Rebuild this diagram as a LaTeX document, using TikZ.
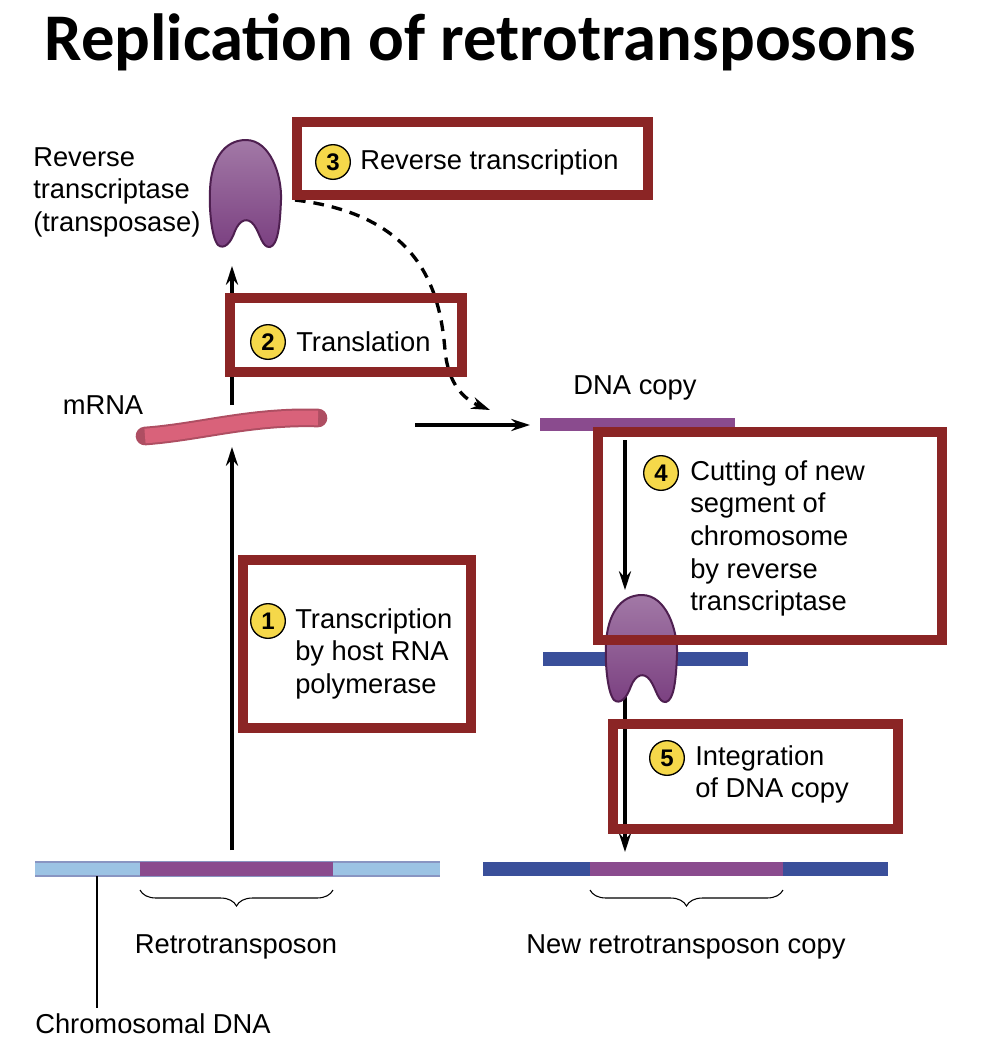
\documentclass[tikz,border=0pt]{standalone}
\usepackage{fontspec}
\setmainfont{Liberation Sans}
\newfontfamily\titlefont{Carlito}
\usetikzlibrary{arrows.meta,decorations.pathreplacing}
\definecolor{boxred}{HTML}{8B2525}
\definecolor{prot}{HTML}{7A3F80}
\definecolor{protd}{HTML}{4E1F50}
\definecolor{lblue}{HTML}{9CC3E4}
\definecolor{dblue}{HTML}{3A4F9A}
\definecolor{purp}{HTML}{8A4B8E}
\definecolor{pink}{HTML}{D9627A}
\definecolor{yel}{HTML}{F5D84A}
\begin{document}
\begin{tikzpicture}[x=0.75pt,y=-0.75pt,
  lbl/.style={font=\fontsize{20.5}{24.5}\selectfont,align=left,inner sep=0},
  rbox/.style={draw=boxred,line width=7.5pt},
  num/.style={circle,draw=black,line width=1pt,fill=yel,inner sep=0,minimum size=26pt,font=\fontsize{18}{18}\selectfont\bfseries},
  arr/.style={line width=2.5pt,-{Stealth[length=14pt,width=9pt]}},
  prt/.pic={\draw[protd,line width=1.5pt,top color=prot!70!white,bottom color=prot,middle color=prot!85]
     (0,-55) .. controls (24,-55) and (36,-20) .. (35,5)
     .. controls (34,30) and (32,50) .. (24,52)
     .. controls (16,53) and (14,38) .. (8,30)
     .. controls (2,22) and (-6,24) .. (-11,36)
     .. controls (-15,48) and (-22,55) .. (-28,50)
     .. controls (-35,42) and (-37,10) .. (-36,-5)
     .. controls (-35,-35) and (-22,-55) .. (0,-55) -- cycle;}]
\useasboundingbox (0,0) rectangle (986,1054);
\fill[white] (0,0) rectangle (986,1054);
\node (title) at (480,42) {\titlefont\bfseries\fontsize{50}{54}\selectfont Replication of retrotransposons};
% chromosomes
\fill[lblue] (35,862) rectangle (440,876);
\draw[dblue!60,line width=0.8pt] (35,862) -- (440,862) (35,876) -- (440,876);
\fill[purp] (140,862) rectangle (333,876);
\fill[dblue] (483,862) rectangle (888,876);
\fill[purp] (590,862) rectangle (783,876);
\draw[decorate,decoration={brace,amplitude=12pt,mirror},line width=0.8pt] (140,890) -- (333,890);
\draw[decorate,decoration={brace,amplitude=12pt,mirror},line width=0.8pt] (590,890) -- (783,890);
\node[lbl] (rt) at (236,947) {Retrotransposon};
\node[lbl] (nrt) at (686,947) {New retrotransposon copy};
\node[lbl,anchor=west] (cd) at (35,1024) {Chromosomal DNA};
\coordinate (cdt) at (97,876);
\draw[line width=0.8pt] (cdt) -- (97,1008);
% mRNA
\draw[pink!80!black,line width=14pt,line cap=round] (145,436) .. controls (200,432) and (250,416) .. (318,418);
\draw[pink,line width=11pt,line cap=butt] (145,436) .. controls (200,432) and (250,416) .. (318,418);
\node[lbl] (mrna) at (103,405) {mRNA};
% DNA copy
\fill[purp] (540,418) rectangle (735,431);
\node[lbl] (dnac) at (635,388) {DNA copy};
\fill[dblue] (543,652) rectangle (748,666);
% arrows
\coordinate (a1s) at (232,850); \coordinate (a1e) at (232,447);
\draw[arr] (a1s) -- (a1e);
\coordinate (a2s) at (232,405); \coordinate (a2e) at (232,266);
\draw[arr] (a2s) -- (a2e);
\coordinate (a3s) at (415,425); \coordinate (a3e) at (530,425);
\draw[arr] (a3s) -- (a3e);
\coordinate (a4s) at (625,440); \coordinate (a4e) at (625,590);
\draw[arr] (a4s) -- (a4e);
\coordinate (a5s) at (625,695); \coordinate (a5e) at (625,852);
\draw[arr] (a5s) -- (a5e);
\coordinate (ds) at (295,200); \coordinate (de) at (490,410);
\draw[line width=2.5pt,dash pattern=on 8pt off 6pt,-{Stealth[length=14pt,width=9pt]}] (ds) .. controls (420,215) and (440,290) .. (445,350) .. controls (448,385) and (465,400) .. (de);
% proteins
\pic at (246,195) {prt};
\pic at (642,650) {prt};
\node[lbl,anchor=north west] (rtase) at (33,147) {Reverse\\transcriptase\\(transposase)};
% boxes
\draw[rbox] (297,122) rectangle (648,195);
\draw[rbox] (230,298) rectangle (462,372);
\draw[rbox] (243,560) rectangle (471,728);
\draw[rbox] (598,432) rectangle (942,640);
\draw[rbox] (613,724) rectangle (898,829);
% labels
\node[num] (n3) at (333,162) {3};
\node[lbl,anchor=west] (l3) at (360,162) {Reverse transcription};
\node[num] (n2) at (268,342) {2};
\node[lbl,anchor=west] (l2) at (296,342) {Translation};
\node[num] (n1) at (268,621) {1};
\node[lbl,anchor=north west] (l1) at (295,608) {Transcription\\by host RNA\\polymerase};
\node[num] (n4) at (661,473) {4};
\node[lbl,anchor=north west] (l4) at (690,460) {Cutting of new\\segment of\\chromosome\\by reverse\\transcriptase};
\node[num] (n5) at (667,758) {5};
\node[lbl,anchor=north west] (l5) at (695,745) {Integration\\of DNA copy};
\end{tikzpicture}
\end{document}
